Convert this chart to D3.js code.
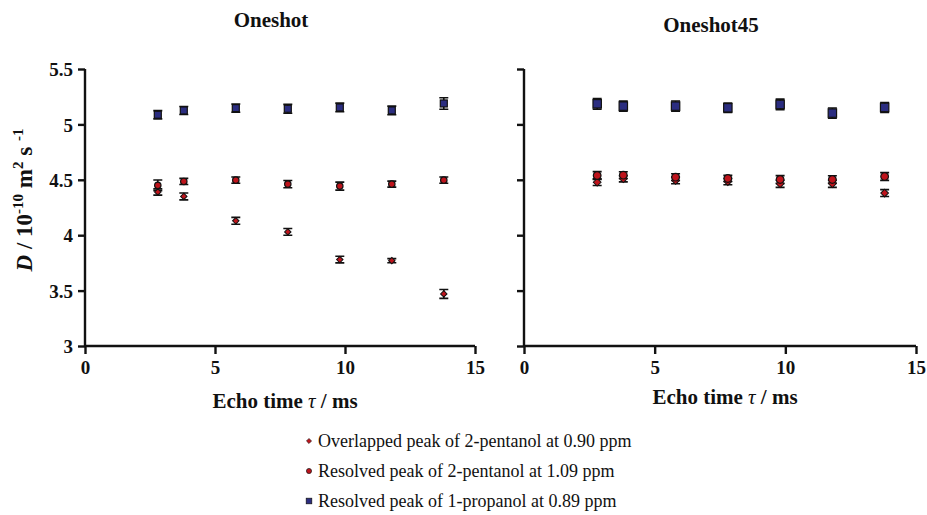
<!DOCTYPE html>
<html>
<head>
<meta charset="utf-8">
<script src="https://cdn.jsdelivr.net/npm/d3@7"></script>
<style>
  body { margin: 0; background: #fff; }
  svg { display: block; }
  text { font-family: "Liberation Serif", "Times New Roman", serif; fill: #111; }
  .axis text { font-weight: bold; font-size: 19px; }
</style>
</head>
<body>
<svg id="chart" width="927" height="515"></svg>
<script>
// echo times (ms), shared by both panels
var echoTimes = [2.8, 3.8, 5.8, 7.8, 9.8, 11.8, 13.8];

// Oneshot panel
var oneshotOverlapped = [4.39, 4.35, 4.13, 4.03, 3.78, 3.77, 3.47];
var oneshotOverlappedErr = [0.028, 0.031, 0.031, 0.030, 0.030, 0.019, 0.040];
var oneshotPentanol = [4.45, 4.485, 4.497, 4.461, 4.443, 4.461, 4.497];
var oneshotPentanolErr = [0.048, 0.028, 0.028, 0.033, 0.036, 0.027, 0.028];
var oneshotPropanol = [5.087, 5.126, 5.147, 5.141, 5.153, 5.126, 5.189];
var oneshotPropanolErr = [0.037, 0.036, 0.037, 0.040, 0.039, 0.039, 0.052];

// Oneshot45 panel
var oneshot45Overlapped = [4.478, 4.509, 4.494, 4.484, 4.464, 4.464, 4.380];
var oneshot45OverlappedErr = [0.030, 0.028, 0.030, 0.028, 0.032, 0.032, 0.031];
var oneshot45Pentanol = [4.539, 4.542, 4.524, 4.512, 4.503, 4.503, 4.530];
var oneshot45PentanolErr = [0.035, 0.030, 0.030, 0.028, 0.035, 0.033, 0.035];
var oneshot45Propanol = [5.186, 5.165, 5.165, 5.150, 5.180, 5.102, 5.153];
var oneshot45PropanolErr = [0.048, 0.045, 0.046, 0.043, 0.048, 0.046, 0.045];

var xTicks = [0, 5, 10, 15];
var yTicks = [3, 3.5, 4, 4.5, 5, 5.5];
var legendLabels = [
  'Overlapped peak of 2-pentanol at 0.90 ppm',
  'Resolved peak of 2-pentanol at 1.09 ppm',
  'Resolved peak of 1-propanol at 0.89 ppm'
];

var svg = d3.select('#chart');
var plotTop = 69, plotBottom = 346;
var serif = '"Liberation Serif", "Times New Roman", serif';

var panels = [
  { title: 'Oneshot', left: 85, right: 475, titleY: 27, xLabelY: 408, yLabels: true, scale: 1,
    series: [
      { kind: 'diamond', values: oneshotOverlapped, errs: oneshotOverlappedErr },
      { kind: 'circle', values: oneshotPentanol, errs: oneshotPentanolErr },
      { kind: 'square', values: oneshotPropanol, errs: oneshotPropanolErr }
    ] },
  { title: 'Oneshot45', left: 524, right: 916, titleY: 32, xLabelY: 404, yLabels: false, scale: 1.2,
    series: [
      { kind: 'diamond', values: oneshot45Overlapped, errs: oneshot45OverlappedErr },
      { kind: 'circle', values: oneshot45Pentanol, errs: oneshot45PentanolErr },
      { kind: 'square', values: oneshot45Propanol, errs: oneshot45PropanolErr }
    ] }
];

var colours = { diamond: '#be141c', circle: '#be141c', square: '#2b2d80' };

// draws a single marker shape centred on 0,0
function drawMarker(g, kind, s, sw) {
  sw = sw || 1.2;
  if (kind === 'square') {
    g.append('rect')
      .attr('x', -3.5 * s).attr('y', -3.5 * s)
      .attr('width', 7 * s).attr('height', 7 * s)
      .attr('fill', colours.square).attr('stroke', '#111').attr('stroke-width', sw);
  } else if (kind === 'circle') {
    g.append('circle')
      .attr('r', 3.2 * s)
      .attr('fill', colours.circle).attr('stroke', '#111').attr('stroke-width', sw);
  } else {
    var d = 3.2 * s;
    g.append('path')
      .attr('d', 'M0,' + (-d) + 'L' + d + ',0L0,' + d + 'L' + (-d) + ',0Z')
      .attr('fill', colours.diamond).attr('stroke', '#111').attr('stroke-width', sw * 0.85);
  }
}

panels.forEach(function (p) {
  var x = d3.scaleLinear().domain([0, 15]).range([p.left, p.right]);
  var y = d3.scaleLinear().domain([3, 5.5]).range([plotBottom, plotTop]);
  var g = svg.append('g');

  // axes
  var xAxis = g.append('g')
    .attr('class', 'axis')
    .attr('transform', 'translate(0,' + plotBottom + ')')
    .call(d3.axisBottom(x).tickValues(xTicks).tickSize(8).tickPadding(7).tickFormat(d3.format('d')));
  var yAxis = g.append('g')
    .attr('class', 'axis')
    .attr('transform', 'translate(' + p.left + ',0)')
    .call(d3.axisLeft(y).tickValues(yTicks).tickSize(7).tickPadding(5)
      .tickFormat(p.yLabels ? d3.format('') : function () { return ''; }));

  [xAxis, yAxis].forEach(function (a) {
    // axis() writes sans-serif/10 on the group, override it
    a.attr('font-family', serif).attr('font-size', 19).attr('font-weight', 'bold');
    a.select('.domain').attr('stroke', '#111').attr('stroke-width', 2.4)
      .attr('d', a === xAxis ? 'M' + p.left + ',0H' + p.right : 'M0,' + plotTop + 'V' + plotBottom);
    a.selectAll('.tick line').attr('stroke', '#111').attr('stroke-width', 2.4);
    a.selectAll('.tick text').attr('fill', '#111')
      .style('font-family', serif).style('font-weight', 'bold').style('font-size', '19px');
  });
  yAxis.selectAll('.tick text').attr('dy', '0.35em');

  // title
  g.append('text')
    .attr('x', (p.left + p.right) / 2 - 9).attr('y', p.titleY)
    .attr('text-anchor', 'middle')
    .style('font-weight', 'bold').style('font-size', '21px')
    .text(p.title);

  // x label
  var xl = g.append('text')
    .attr('x', (p.left + p.right) / 2 + 5).attr('y', p.xLabelY)
    .attr('text-anchor', 'middle')
    .style('font-weight', 'bold').style('font-size', '21px');
  xl.append('tspan').text('Echo time ');
  xl.append('tspan').style('font-style', 'italic').style('font-weight', 'normal').text('τ');
  xl.append('tspan').text(' / ms');

  // error bars then markers
  p.series.forEach(function (s) {
    g.append('g').selectAll('path')
      .data(echoTimes.map(function (t, i) { return { t: t, v: s.values[i], e: s.errs[i] }; }))
      .join('path')
      .attr('d', function (d) {
        var cx = x(d.t), y1 = y(d.v + d.e), y2 = y(d.v - d.e), w = 4.5;
        return 'M' + cx + ',' + y1 + 'V' + y2 +
          'M' + (cx - w) + ',' + y1 + 'H' + (cx + w) +
          'M' + (cx - w) + ',' + y2 + 'H' + (cx + w);
      })
      .attr('stroke', '#111').attr('stroke-width', 1.6).attr('fill', 'none');
  });
  p.series.forEach(function (s) {
    echoTimes.forEach(function (t, i) {
      var m = g.append('g').attr('transform', 'translate(' + x(t) + ',' + y(s.values[i]) + ')');
      drawMarker(m, s.kind, p.scale);
    });
  });
});

// y axis label
var yl = svg.append('text')
  .attr('transform', 'translate(32,200) rotate(-90)')
  .attr('text-anchor', 'middle')
  .style('font-weight', 'bold').style('font-size', '23px');
yl.append('tspan').style('font-style', 'italic').text('D');
yl.append('tspan').text('  / 10');
yl.append('tspan').attr('dy', -9).style('font-size', '15px').text('-10');
yl.append('tspan').attr('dy', 9).text(' m');
yl.append('tspan').attr('dy', -9).style('font-size', '15px').text('2');
yl.append('tspan').attr('dy', 9).text(' s ');
yl.append('tspan').attr('dy', -9).style('font-size', '15px').text('-1');

// legend
var legend = svg.append('g').selectAll('g')
  .data(legendLabels)
  .join('g')
  .attr('transform', function (d, i) { return 'translate(309,' + (441 + i * 30) + ')'; });
legend.each(function (d, i) {
  drawMarker(d3.select(this), ['diamond', 'circle', 'square'][i], 0.8, 0.7);
});
legend.append('text')
  .attr('x', 9).attr('dy', '0.35em')
  .style('font-size', '18px')
  .text(function (d) { return d; });
</script>
</body>
</html>
